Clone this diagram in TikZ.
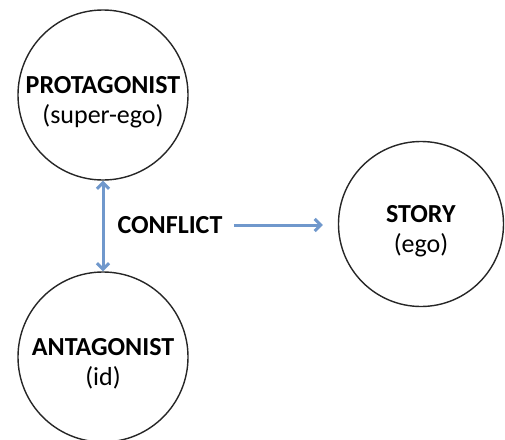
\documentclass[tikz,border=0pt]{standalone}
\usepackage{fontspec}
\setmainfont{Carlito}
\usetikzlibrary{arrows.meta}

\definecolor{arrowblue}{RGB}{112,152,204}

% two-line text inside a circle, set a little low
\newcommand{\rolelines}[2]{\raisebox{-7pt}[\height][\depth]{\begin{tabular}{@{}c@{}}\textbf{#1}\\#2\end{tabular}}}

\begin{document}
\begin{tikzpicture}[
    x=1pt, y=-1pt,
    role/.style={circle, draw=black!85, line width=1.4pt, minimum size=170pt,
        inner sep=0pt, font=\fontsize{26}{30}\selectfont},
    label_style/.style={font=\fontsize{26}{30}\selectfont\bfseries},
    link/.style={arrowblue, line width=3pt, {Straight Barb[length=6pt,width=12pt]}-{Straight Barb[length=6pt,width=12pt]}},
    push/.style={arrowblue, line width=3pt, -{Straight Barb[length=6pt,width=12pt]}}
]

\useasboundingbox (0,0) rectangle (505,439);

% Draw the three characters
\node[role] (protagonist) at (103,95) {\rolelines{PROTAGONIST}{(super-ego)}};
\node[role] (antagonist) at (103,357) {\rolelines{ANTAGONIST}{(id)}};
\node[role, minimum size=165pt] (story) at (421,224) {\rolelines{STORY}{(ego)}};

% Conflict label between them
\node[label_style] (conflict) at (170,225) {CONFLICT};

% Draw the arrows
\draw[link] (protagonist.south) -- (antagonist.north);
\draw[push, shorten <=8pt, shorten >=15pt] (conflict.east) -- (conflict.east -| story.west);

\end{tikzpicture}
\end{document}
